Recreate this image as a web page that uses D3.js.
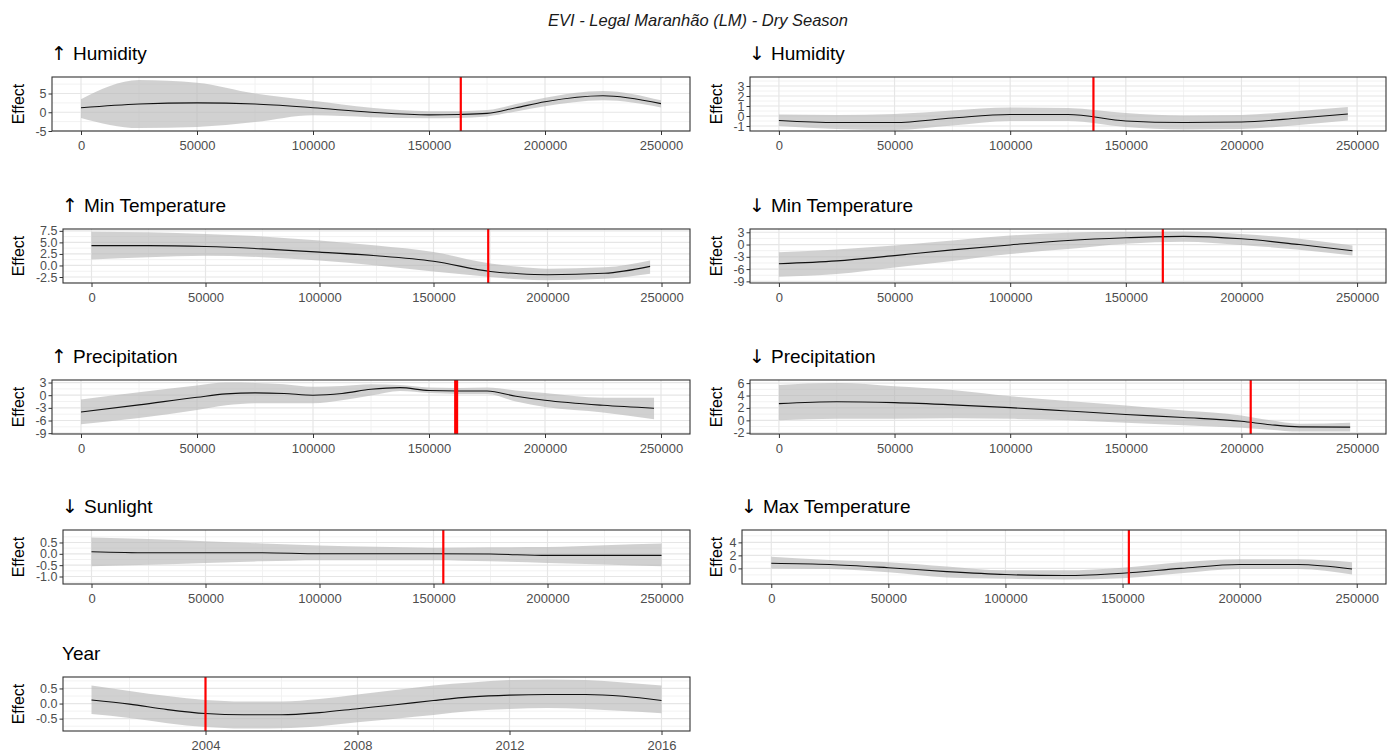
<!DOCTYPE html>
<html>
<head>
<meta charset="utf-8">
<script src="https://cdn.jsdelivr.net/npm/d3@7"></script>
<style>
  body { margin: 0; background: #fff; }
  svg { display: block; font-family: "Liberation Sans", Arial, sans-serif; }
</style>
</head>
<body>
<svg id="chart" width="1397" height="754"></svg>
<script>
const mainTitle = "EVI - Legal Maranhão (LM) - Dry Season";

// arrow + name for each panel title
const panelArrows = ["↑", "↓", "↑", "↓", "↑", "↓", "↓", "↓", ""];
const panelNames = [
    "Humidity", "Humidity",
    "Min Temperature", "Min Temperature",
    "Precipitation", "Precipitation",
    "Sunlight", "Max Temperature",
    "Year"
];

const distTicks = [0, 50000, 100000, 150000, 200000, 250000];
const yearTicks = [2004, 2008, 2012, 2016];

// ↑ Humidity
const humUpX   = [0, 25000, 50000, 75000, 100000, 125000, 150000, 162500, 175000, 187500, 200000, 225000, 250000];
const humUpFit = [1.2, 2.2, 2.5, 2.2, 1.2, 0.0, -0.7, -0.6, -0.3, 1.2, 2.8, 4.4, 2.3];
const humUpLo  = [-1.5, -4.2, -3.9, -2.6, -0.8, -1.3, -1.6, -1.5, -1.1, 0.2, 1.6, 3.2, 1.3];
const humUpHi  = [3.5, 8.6, 7.9, 5.0, 3.1, 1.2, 0.3, 0.3, 0.6, 2.2, 3.9, 5.7, 3.2];

// ↓ Humidity
const humDnX   = [0, 25000, 50000, 75000, 100000, 125000, 150000, 175000, 200000, 225000, 246000];
const humDnFit = [-0.45, -0.65, -0.65, -0.2, 0.15, 0.15, -0.5, -0.65, -0.6, -0.2, 0.2];
const humDnLo  = [-1.0, -1.3, -1.4, -0.95, -0.5, -0.5, -1.1, -1.35, -1.3, -0.9, -0.45];
const humDnHi  = [0.15, 0.1, 0.2, 0.55, 0.85, 0.8, 0.3, 0.05, 0.1, 0.5, 0.9];

// ↑ Min Temperature
const tminUpX   = [0, 25000, 50000, 75000, 100000, 125000, 150000, 175000, 187500, 200000, 225000, 245000];
const tminUpFit = [4.3, 4.3, 4.1, 3.6, 2.9, 2.1, 0.9, -1.3, -1.8, -2.0, -1.7, -0.2];
const tminUpLo  = [1.3, 1.8, 2.1, 1.8, 1.1, 0.0, -1.3, -2.5, -3.0, -3.2, -2.9, -1.8];
const tminUpHi  = [7.3, 7.2, 6.8, 6.3, 5.4, 4.3, 2.9, 0.4, -0.3, -0.7, -0.4, 1.1];

// ↓ Min Temperature
const tminDnX   = [0, 25000, 50000, 75000, 100000, 125000, 150000, 175000, 200000, 225000, 248000];
const tminDnFit = [-4.7, -4.0, -2.7, -1.3, -0.1, 1.0, 1.65, 2.0, 1.4, 0.0, -1.5];
const tminDnLo  = [-7.9, -7.2, -5.6, -4.0, -2.3, -1.1, 0.2, 0.7, -0.1, -1.3, -2.7];
const tminDnHi  = [-1.9, -1.2, -0.25, 1.0, 2.2, 2.9, 3.1, 3.2, 2.6, 1.4, -0.25];

// ↑ Precipitation
const precUpX   = [0, 25000, 50000, 62500, 75000, 87500, 100000, 112500, 125000, 137500, 150000, 162500, 175000, 187500, 200000, 225000, 247000];
const precUpFit = [-4.0, -2.3, -0.5, 0.3, 0.55, 0.4, 0.0, 0.4, 1.4, 1.8, 1.1, 1.0, 1.0, -0.25, -1.2, -2.4, -3.1];
const precUpLo  = [-6.9, -5.4, -3.5, -2.4, -1.9, -1.9, -1.9, -1.2, -0.1, 1.0, 0.5, 0.3, 0.3, -1.5, -2.8, -4.1, -5.7];
const precUpHi  = [-1.0, 0.7, 2.3, 3.0, 2.9, 2.6, 2.0, 2.2, 2.6, 2.4, 1.8, 1.7, 1.8, 1.1, 0.5, -0.6, -0.6];

// ↓ Precipitation
const precDnX   = [0, 25000, 50000, 75000, 100000, 125000, 150000, 175000, 200000, 212500, 225000, 247000];
const precDnFit = [2.7, 3.0, 2.85, 2.5, 2.05, 1.5, 0.95, 0.45, -0.15, -0.7, -1.05, -1.1];
const precDnLo  = [0.0, 0.25, 0.25, 0.35, 0.25, 0.0, -0.4, -0.8, -1.2, -1.5, -1.8, -1.8];
const precDnHi  = [5.7, 6.0, 5.5, 4.9, 3.9, 3.1, 2.4, 1.6, 0.8, 0.0, -0.55, -0.4];

// ↓ Sunlight
const sunDnX   = [0, 25000, 50000, 75000, 100000, 125000, 150000, 175000, 200000, 225000, 250000];
const sunDnFit = [0.09, 0.045, 0.045, 0.045, 0.0, 0.0, 0.0, -0.01, -0.07, -0.07, -0.07];
const sunDnLo  = [-0.55, -0.48, -0.4, -0.33, -0.28, -0.28, -0.28, -0.33, -0.4, -0.47, -0.55];
const sunDnHi  = [0.72, 0.65, 0.55, 0.46, 0.37, 0.31, 0.27, 0.29, 0.3, 0.38, 0.45];

// ↓ Max Temperature
const tmaxDnX   = [0, 25000, 50000, 75000, 100000, 125000, 150000, 175000, 200000, 225000, 248000];
const tmaxDnFit = [0.8, 0.6, 0.1, -0.5, -0.95, -1.1, -0.75, 0.0, 0.6, 0.6, -0.1];
const tmaxDnLo  = [0.0, -0.1, -0.6, -1.4, -1.6, -1.7, -1.5, -0.75, -0.1, -0.1, -0.95];
const tmaxDnHi  = [1.8, 1.3, 0.95, 0.3, -0.3, -0.3, 0.1, 0.95, 1.4, 1.4, 0.95];

// Year
const yearX   = [2001, 2002, 2003, 2004, 2005, 2006, 2007, 2008, 2009, 2010, 2011, 2012, 2013, 2014, 2015, 2016];
const yearFit = [0.12, -0.02, -0.2, -0.33, -0.37, -0.37, -0.3, -0.17, -0.04, 0.1, 0.22, 0.28, 0.3, 0.3, 0.24, 0.1];
const yearLo  = [-0.35, -0.48, -0.65, -0.78, -0.83, -0.82, -0.75, -0.62, -0.5, -0.38, -0.25, -0.18, -0.15, -0.18, -0.25, -0.32];
const yearHi  = [0.6, 0.42, 0.25, 0.12, 0.07, 0.07, 0.15, 0.3, 0.45, 0.6, 0.7, 0.78, 0.8, 0.78, 0.7, 0.6];

// y ranges and ticks
const yDomains = [
    [-5, 9.4], [-1.5, 3.9],
    [-3.8, 7.9], [-9.4, 3.8],
    [-9.2, 3.6], [-2.2, 6.5],
    [-1.33, 1.05], [-2.4, 5.9],
    [-0.91, 0.88]
];
const yTicks = [
    [-5, 0, 5], [-1, 0, 1, 2, 3],
    [-2.5, 0, 2.5, 5, 7.5], [-9, -6, -3, 0, 3],
    [-9, -6, -3, 0, 3], [-2, 0, 2, 4, 6],
    [-1, -0.5, 0, 0.5], [0, 2, 4],
    [-0.5, 0, 0.5]
];
// red reference lines
const vLines = [
    [163700], [136000],
    [174000], [166000],
    [161300, 162100], [204000],
    [154300], [152700],
    [2004]
];

const series = [
    [humUpX, humUpFit, humUpLo, humUpHi], [humDnX, humDnFit, humDnLo, humDnHi],
    [tminUpX, tminUpFit, tminUpLo, tminUpHi], [tminDnX, tminDnFit, tminDnLo, tminDnHi],
    [precUpX, precUpFit, precUpLo, precUpHi], [precDnX, precDnFit, precDnLo, precDnHi],
    [sunDnX, sunDnFit, sunDnLo, sunDnHi], [tmaxDnX, tmaxDnFit, tmaxDnLo, tmaxDnHi],
    [yearX, yearFit, yearLo, yearHi]
];

// layout: panel boxes
const rowTops = [77, 229, 380, 530, 677];
const boxH = 54;
const boxLefts = [52, 750, 63, 750, 52, 750, 63, 742, 63];
const colRight = [690, 1386];
const effectX = [18, 716];

const svg = d3.select("#chart");

svg.append("text")
    .attr("x", 698)
    .attr("y", 26)
    .attr("text-anchor", "middle")
    .style("font-size", "16.5px")
    .style("font-style", "italic")
    .style("fill", "#1a1a1a")
    .text(mainTitle);

const fmtY = ticks => {
    const dec = ticks.some(t => !Number.isInteger(t));
    return d => dec ? d.toFixed(1) : String(d);
};

series.forEach((s, i) => {
    const col = i % 2;
    const row = Math.floor(i / 2);
    const isYear = i === 8;
    const left = boxLefts[i];
    const right = colRight[col];
    const top = rowTops[row];
    const bottom = top + boxH;

    const [xs, fit, lo, hi] = s;
    const ext = isYear ? d3.extent(xs) : [0, 250000];
    const pad = (ext[1] - ext[0]) * 0.05;
    const x = d3.scaleLinear().domain([ext[0] - pad, ext[1] + pad]).range([left, right]);
    const y = d3.scaleLinear().domain(yDomains[i]).range([bottom, top]);
    const xt = isYear ? yearTicks : distTicks;
    const yt = yTicks[i];

    const g = svg.append("g");

    // minor grid
    const xStep = xt[1] - xt[0];
    const xMinor = d3.range(xt[0] - xStep / 2, xt[xt.length - 1] + xStep, xStep)
        .filter(v => v > x.domain()[0] && v < x.domain()[1]);
    const yStep = yt[1] - yt[0];
    const yMinor = d3.range(yt[0] - yStep / 2, yt[yt.length - 1] + yStep, yStep)
        .filter(v => v > yDomains[i][0] && v < yDomains[i][1]);

    g.append("g").selectAll("line").data(xMinor).join("line")
        .attr("x1", d => x(d)).attr("x2", d => x(d))
        .attr("y1", top).attr("y2", bottom)
        .style("stroke", "#f2f2f2").style("stroke-width", 1);
    g.append("g").selectAll("line").data(yMinor).join("line")
        .attr("x1", left).attr("x2", right)
        .attr("y1", d => y(d)).attr("y2", d => y(d))
        .style("stroke", "#f2f2f2").style("stroke-width", 1);

    // major grid
    g.append("g").selectAll("line").data(xt).join("line")
        .attr("x1", d => x(d)).attr("x2", d => x(d))
        .attr("y1", top).attr("y2", bottom)
        .style("stroke", "#e6e6e6").style("stroke-width", 1.2);
    g.append("g").selectAll("line").data(yt).join("line")
        .attr("x1", left).attr("x2", right)
        .attr("y1", d => y(d)).attr("y2", d => y(d))
        .style("stroke", "#e6e6e6").style("stroke-width", 1.2);

    const pts = xs.map((v, k) => ({ x: v, fit: fit[k], lo: lo[k], hi: hi[k] }));

    // confidence band
    g.append("path")
        .datum(pts)
        .attr("d", d3.area().curve(d3.curveMonotoneX)
            .x(d => x(d.x)).y0(d => y(d.lo)).y1(d => y(d.hi)))
        .style("fill", "#b8b8b8")
        .style("fill-opacity", 0.65);

    // effect line
    g.append("path")
        .datum(pts)
        .attr("d", d3.line().curve(d3.curveMonotoneX).x(d => x(d.x)).y(d => y(d.fit)))
        .style("fill", "none")
        .style("stroke", "#111")
        .style("stroke-width", 1.1);

    // red reference line(s)
    g.append("g").selectAll("line").data(vLines[i]).join("line")
        .attr("x1", d => x(d)).attr("x2", d => x(d))
        .attr("y1", top).attr("y2", bottom)
        .style("stroke", "#ff0000").style("stroke-width", 2.2);

    // panel border
    g.append("rect")
        .attr("x", left).attr("y", top)
        .attr("width", right - left).attr("height", boxH)
        .style("fill", "none").style("stroke", "#333").style("stroke-width", 1.1);

    // axes
    const xAxis = g.append("g")
        .attr("transform", `translate(0,${bottom})`)
        .call(d3.axisBottom(x).tickValues(xt).tickSize(4).tickPadding(6).tickFormat(d3.format("d")));
    const yAxis = g.append("g")
        .attr("transform", `translate(${left},0)`)
        .call(d3.axisLeft(y).tickValues(yt).tickSize(3.5).tickPadding(2).tickFormat(fmtY(yt)));

    [xAxis, yAxis].forEach(a => {
        a.select(".domain").remove();
        a.selectAll(".tick line").style("stroke", "#333");
        a.selectAll(".tick text")
            .style("fill", "#4d4d4d")
            .style("font-family", "'Liberation Sans', Arial, sans-serif");
    });
    xAxis.selectAll(".tick text").style("font-size", "13px");
    yAxis.selectAll(".tick text").style("font-size", "12.5px");

    // y label
    g.append("text")
        .attr("transform", `translate(${effectX[col]},${(top + bottom) / 2}) rotate(-90)`)
        .attr("text-anchor", "middle")
        .attr("dominant-baseline", "central")
        .style("font-size", "16px")
        .style("fill", "#000")
        .text("Effect");

    // panel title
    const title = g.append("text")
        .attr("x", left - 1)
        .attr("y", top - 17)
        .style("font-size", "19px")
        .style("fill", "#000");
    if (panelArrows[i]) {
        title.append("tspan")
            .style("font-family", "'DejaVu Sans', sans-serif")
            .style("font-size", "19px")
            .text(panelArrows[i] + " ");
    }
    title.append("tspan").text(panelNames[i]);
});
</script>
</body>
</html>
